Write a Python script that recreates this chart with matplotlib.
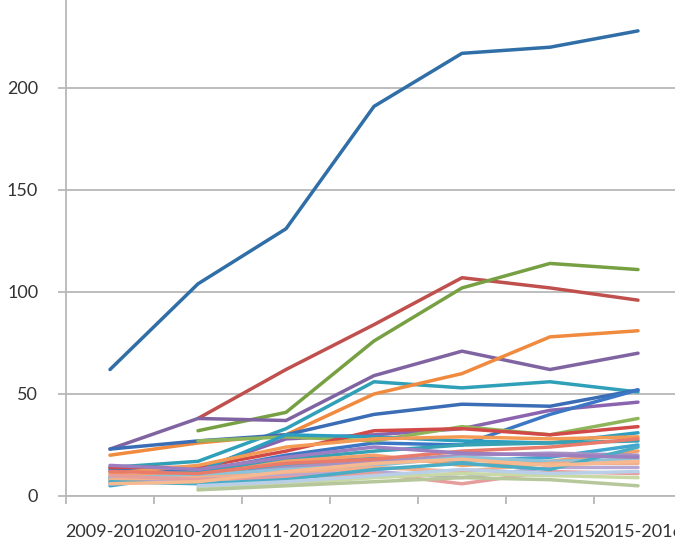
import matplotlib
matplotlib.use("Agg")
import matplotlib.pyplot as plt
import numpy as np

years = ["2009-2010", "2010-2011", "2011-2012", "2012-2013",
         "2013-2014", "2014-2015", "2015-2016"]

# each series: values per year (None = no value that year)
s01 = [62, 104, 131, 191, 217, 220, 228]
s02 = [None, 38, 62, 84, 107, 102, 96]
s03 = [None, 32, 41, 76, 102, 114, 111]
s04 = [23, 38, 37, 59, 71, 62, 70]
s05 = [14, 17, 33, 56, 53, 56, 51]
s06 = [20, 26, 30, 50, 60, 78, 81]
s07 = [23, 27, 30, 40, 45, 44, 52]
s08 = [12, 13, 28, 30, 33, 42, 46]
s09 = [13, 12, 20, 26, 25, 40, 52]
s10 = [None, 27, 29, 27, 34, 30, 38]
s11 = [14, 14, 22, 32, 33, 30, 34]
s12 = [9, 12, 30, 29, 27, 26, 31]
s13 = [11, 15, 24, 28, 29, 28, 29]
s14 = [8, 12, 18, 22, 25, 26, 27]
s15 = [5, 11, 15, 19, 17, 19, 25]
s16 = [10, 10, 17, 20, 15, 17, 22]
s17 = [7, 9, 14, 17, 20, 21, 20]
s18 = [9, 10, 13, 15, 19, 17, 18]
s19 = [8, 9, 11, 14, 12, 16, 16]
s20 = [6, 8, 10, 12, 9, 14, 14]
s21 = [10, 8, 9, 11, 6, 12, 11]
s22 = [None, 4, 6, 9, 11, 10, 9]
s23 = [None, 3, 5, 7, 9, 8, 5]
s24 = [7, 6, 8, 13, 16, 13, 24]
s25 = [12, 11, 16, 18, 22, 24, 28]
s26 = [None, 5, 7, 10, 13, 11, 12]
s27 = [15, 13, 19, 24, 21, 20, 19]
s28 = [6, 7, 12, 16, 18, 15, 17]

series = [s01, s02, s03, s04, s05, s06, s07, s08, s09, s10, s11, s12, s13,
          s14, s15, s16, s17, s18, s19, s20, s21, s22, s23, s24, s25, s26,
          s27, s28]

colors = ["#2f6ea6", "#c0504d", "#77a043", "#8064a2", "#2fa0b8", "#f08a3e",
          "#3a6db5", "#8a64ae", "#3b77c4", "#8fb55b", "#d24a48", "#2c9fc0",
          "#f39a55", "#36a2b4", "#3fa6cf", "#f5a06a", "#a792c4", "#8dc3d8",
          "#f2b08a", "#b7a7d2", "#e69e9c", "#c9d9a6", "#b6c79b", "#4bacc6",
          "#e87b6a", "#b9cfe8", "#9c7fc0", "#f7b98f"]

fig = plt.figure(figsize=(6.75, 5.4), dpi=100)
ax = fig.add_axes([66 / 675, 44 / 540, 616 / 675, 510 / 540])

x = np.arange(len(years))
for vals, c in zip(series, colors):
    y = np.array([np.nan if v is None else v for v in vals], dtype=float)
    ax.plot(x, y, color=c, lw=2.5, solid_capstyle="round", solid_joinstyle="round")

ax.set_xlim(-0.5, len(years) - 0.5)
ax.set_ylim(0, 250)
ax.set_yticks([0, 50, 100, 150, 200])
ax.set_xticks(x)
ax.set_xticklabels(years)
ax.set_xticks(np.arange(-0.5, len(years), 1), minor=True)

ax.grid(axis="y", color="#b8b8b8", lw=1.3)
ax.set_axisbelow(True)
for side in ["top", "right"]:
    ax.spines[side].set_visible(False)
for side in ["left", "bottom"]:
    ax.spines[side].set_color("#b8b8b8")
    ax.spines[side].set_linewidth(1.3)

ax.tick_params(axis="x", which="major", length=0, pad=20)
ax.tick_params(axis="x", which="minor", length=6, color="#b8b8b8", width=1.3)
ax.tick_params(axis="y", length=6, color="#b8b8b8", width=1.3, pad=14)
for lab in ax.get_xticklabels() + ax.get_yticklabels():
    lab.set_fontfamily("Lato")
    lab.set_fontsize(13)
    lab.set_color("#333333")

fig.savefig("out.png", dpi=100)
